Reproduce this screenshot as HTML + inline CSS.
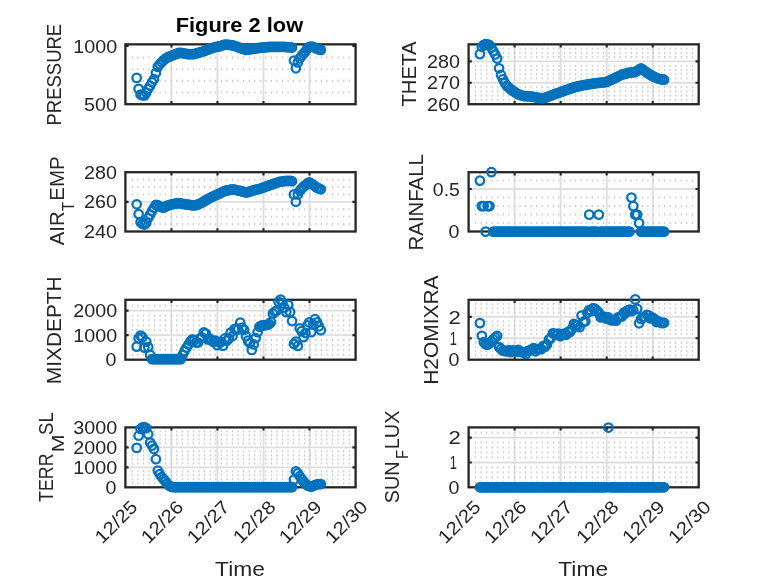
<!DOCTYPE html>
<html><head><meta charset="utf-8"><title>Figure 2 low</title>
<style>html,body{margin:0;padding:0;background:#fff}body{width:778px;height:583px;overflow:hidden}</style>
</head><body>
<svg width="778" height="583" viewBox="0 0 778 583" style="display:block;font-family:'Liberation Sans', 'DejaVu Sans', sans-serif">
<rect width="778" height="583" fill="#fff"/>
<g><line x1="171.43" x2="171.43" y1="44.35" y2="104.2" stroke="#DEDEDE" stroke-width="1.9"/><line x1="217.46" x2="217.46" y1="44.35" y2="104.2" stroke="#DEDEDE" stroke-width="1.9"/><line x1="263.49" x2="263.49" y1="44.35" y2="104.2" stroke="#DEDEDE" stroke-width="1.9"/><line x1="309.52" x2="309.52" y1="44.35" y2="104.2" stroke="#DEDEDE" stroke-width="1.9"/><line x1="131.75" x2="353.1" y1="92.54" y2="92.54" stroke="#CACACA" stroke-width="2.1" stroke-dasharray="1.15 4.412"/><line x1="131.75" x2="353.1" y1="80.88" y2="80.88" stroke="#CACACA" stroke-width="2.1" stroke-dasharray="1.15 4.412"/><line x1="131.75" x2="353.1" y1="69.22" y2="69.22" stroke="#CACACA" stroke-width="2.1" stroke-dasharray="1.15 4.412"/><line x1="131.75" x2="353.1" y1="57.56" y2="57.56" stroke="#CACACA" stroke-width="2.1" stroke-dasharray="1.15 4.412"/><rect x="125.4" y="44.35" width="230.2" height="59.85" fill="none" stroke="#262626" stroke-width="2.3"/><path d="M171.43 104.2v-3.2M171.43 44.35v3.2M217.46 104.2v-3.2M217.46 44.35v3.2M263.49 104.2v-3.2M263.49 44.35v3.2M309.52 104.2v-3.2M309.52 44.35v3.2M125.4 45.9h3.2M355.6 45.9h-3.2" stroke="#262626" stroke-width="2.1" fill="none"/><g fill="none" stroke="#0072BD" stroke-width="2.25"><circle cx="136.71" cy="77.9" r="4.25"/><circle cx="138.63" cy="88.9" r="4.25"/><circle cx="140.54" cy="94.5" r="4.25"/><circle cx="142.46" cy="95.3" r="4.25"/><circle cx="144.38" cy="95.4" r="4.25"/><circle cx="146.3" cy="92.5" r="4.25"/><circle cx="148.22" cy="88.8" r="4.25"/><circle cx="150.13" cy="85.7" r="4.25"/><circle cx="152.05" cy="82.3" r="4.25"/><circle cx="153.97" cy="79.2" r="4.25"/><circle cx="155.89" cy="73" r="4.25"/><circle cx="157.8" cy="66.87" r="4.25"/><circle cx="159.72" cy="64.24" r="4.25"/><circle cx="161.64" cy="62.22" r="4.25"/><circle cx="163.56" cy="60.28" r="4.25"/><circle cx="165.48" cy="58.63" r="4.25"/><circle cx="167.39" cy="57.45" r="4.25"/><circle cx="169.31" cy="56.61" r="4.25"/><circle cx="171.23" cy="55.77" r="4.25"/><circle cx="173.15" cy="55.05" r="4.25"/><circle cx="175.07" cy="54.33" r="4.25"/><circle cx="176.98" cy="53.61" r="4.25"/><circle cx="178.9" cy="52.9" r="4.25"/><circle cx="180.82" cy="52.8" r="4.25"/><circle cx="182.74" cy="53.15" r="4.25"/><circle cx="184.66" cy="53.5" r="4.25"/><circle cx="186.57" cy="53.85" r="4.25"/><circle cx="188.49" cy="54.2" r="4.25"/><circle cx="190.41" cy="54.17" r="4.25"/><circle cx="192.33" cy="54.13" r="4.25"/><circle cx="194.25" cy="54.03" r="4.25"/><circle cx="196.16" cy="53.46" r="4.25"/><circle cx="198.08" cy="52.89" r="4.25"/><circle cx="200" cy="52.32" r="4.25"/><circle cx="201.92" cy="51.76" r="4.25"/><circle cx="203.83" cy="51.19" r="4.25"/><circle cx="205.75" cy="50.46" r="4.25"/><circle cx="207.67" cy="49.74" r="4.25"/><circle cx="209.59" cy="49.01" r="4.25"/><circle cx="211.51" cy="48.29" r="4.25"/><circle cx="213.42" cy="47.57" r="4.25"/><circle cx="215.34" cy="47.14" r="4.25"/><circle cx="217.26" cy="46.74" r="4.25"/><circle cx="219.18" cy="46.35" r="4.25"/><circle cx="221.1" cy="45.78" r="4.25"/><circle cx="223.01" cy="45.2" r="4.25"/><circle cx="224.93" cy="44.61" r="4.25"/><circle cx="226.85" cy="44.66" r="4.25"/><circle cx="228.77" cy="44.86" r="4.25"/><circle cx="230.69" cy="45.05" r="4.25"/><circle cx="232.6" cy="45.25" r="4.25"/><circle cx="234.52" cy="45.84" r="4.25"/><circle cx="236.44" cy="46.56" r="4.25"/><circle cx="238.36" cy="47.28" r="4.25"/><circle cx="240.28" cy="47.99" r="4.25"/><circle cx="242.19" cy="48.64" r="4.25"/><circle cx="244.11" cy="49.29" r="4.25"/><circle cx="246.03" cy="49.88" r="4.25"/><circle cx="247.95" cy="49.6" r="4.25"/><circle cx="249.86" cy="49.32" r="4.25"/><circle cx="251.78" cy="49.03" r="4.25"/><circle cx="253.7" cy="48.75" r="4.25"/><circle cx="255.62" cy="48.45" r="4.25"/><circle cx="257.54" cy="48.16" r="4.25"/><circle cx="259.45" cy="47.86" r="4.25"/><circle cx="261.37" cy="47.63" r="4.25"/><circle cx="263.29" cy="47.47" r="4.25"/><circle cx="265.21" cy="47.3" r="4.25"/><circle cx="267.13" cy="47.14" r="4.25"/><circle cx="269.04" cy="46.98" r="4.25"/><circle cx="270.96" cy="46.89" r="4.25"/><circle cx="272.88" cy="46.88" r="4.25"/><circle cx="274.8" cy="46.86" r="4.25"/><circle cx="276.72" cy="46.85" r="4.25"/><circle cx="278.63" cy="46.84" r="4.25"/><circle cx="280.55" cy="46.82" r="4.25"/><circle cx="282.47" cy="46.81" r="4.25"/><circle cx="284.39" cy="46.87" r="4.25"/><circle cx="286.31" cy="47.02" r="4.25"/><circle cx="288.22" cy="47.18" r="4.25"/><circle cx="290.14" cy="47.34" r="4.25"/><circle cx="292.06" cy="47.5" r="4.25"/><circle cx="293.98" cy="60.5" r="4.25"/><circle cx="295.89" cy="68.3" r="4.25"/><circle cx="297.81" cy="62.4" r="4.25"/><circle cx="299.73" cy="58.35" r="4.25"/><circle cx="301.65" cy="55.9" r="4.25"/><circle cx="303.57" cy="53.56" r="4.25"/><circle cx="305.48" cy="51.33" r="4.25"/><circle cx="307.4" cy="48.35" r="4.25"/><circle cx="309.32" cy="46.82" r="4.25"/><circle cx="311.24" cy="46.51" r="4.25"/><circle cx="313.16" cy="46.92" r="4.25"/><circle cx="315.07" cy="47.81" r="4.25"/><circle cx="316.99" cy="48.69" r="4.25"/><circle cx="318.91" cy="49.52" r="4.25"/><circle cx="320.83" cy="49.9" r="4.25"/></g></g>
<g><line x1="171.43" x2="171.43" y1="172.2" y2="231.5" stroke="#DEDEDE" stroke-width="1.9"/><line x1="217.46" x2="217.46" y1="172.2" y2="231.5" stroke="#DEDEDE" stroke-width="1.9"/><line x1="263.49" x2="263.49" y1="172.2" y2="231.5" stroke="#DEDEDE" stroke-width="1.9"/><line x1="309.52" x2="309.52" y1="172.2" y2="231.5" stroke="#DEDEDE" stroke-width="1.9"/><line x1="125.4" x2="355.6" y1="201.85" y2="201.85" stroke="#DEDEDE" stroke-width="1.9"/><line x1="131.75" x2="353.1" y1="224.09" y2="224.09" stroke="#CACACA" stroke-width="2.1" stroke-dasharray="1.15 4.412"/><line x1="131.75" x2="353.1" y1="216.68" y2="216.68" stroke="#CACACA" stroke-width="2.1" stroke-dasharray="1.15 4.412"/><line x1="131.75" x2="353.1" y1="209.26" y2="209.26" stroke="#CACACA" stroke-width="2.1" stroke-dasharray="1.15 4.412"/><line x1="131.75" x2="353.1" y1="194.44" y2="194.44" stroke="#CACACA" stroke-width="2.1" stroke-dasharray="1.15 4.412"/><line x1="131.75" x2="353.1" y1="187.02" y2="187.02" stroke="#CACACA" stroke-width="2.1" stroke-dasharray="1.15 4.412"/><line x1="131.75" x2="353.1" y1="179.61" y2="179.61" stroke="#CACACA" stroke-width="2.1" stroke-dasharray="1.15 4.412"/><rect x="125.4" y="172.2" width="230.2" height="59.3" fill="none" stroke="#262626" stroke-width="2.3"/><path d="M171.43 231.5v-3.2M171.43 172.2v3.2M217.46 231.5v-3.2M217.46 172.2v3.2M263.49 231.5v-3.2M263.49 172.2v3.2M309.52 231.5v-3.2M309.52 172.2v3.2M125.4 201.85h3.2M355.6 201.85h-3.2" stroke="#262626" stroke-width="2.1" fill="none"/><g fill="none" stroke="#0072BD" stroke-width="2.25"><circle cx="136.71" cy="204.3" r="4.25"/><circle cx="138.63" cy="214.1" r="4.25"/><circle cx="140.54" cy="222.3" r="4.25"/><circle cx="142.46" cy="223.8" r="4.25"/><circle cx="144.38" cy="224.5" r="4.25"/><circle cx="146.3" cy="223" r="4.25"/><circle cx="148.22" cy="218" r="4.25"/><circle cx="150.13" cy="214.6" r="4.25"/><circle cx="152.05" cy="211.1" r="4.25"/><circle cx="153.97" cy="207.7" r="4.25"/><circle cx="155.89" cy="204.9" r="4.25"/><circle cx="157.8" cy="205.2" r="4.25"/><circle cx="159.72" cy="206.4" r="4.25"/><circle cx="161.64" cy="207.12" r="4.25"/><circle cx="163.56" cy="207.69" r="4.25"/><circle cx="165.48" cy="206.65" r="4.25"/><circle cx="167.39" cy="205.67" r="4.25"/><circle cx="169.31" cy="205.01" r="4.25"/><circle cx="171.23" cy="204.36" r="4.25"/><circle cx="173.15" cy="204.02" r="4.25"/><circle cx="175.07" cy="203.71" r="4.25"/><circle cx="176.98" cy="203.39" r="4.25"/><circle cx="178.9" cy="203.12" r="4.25"/><circle cx="180.82" cy="203.46" r="4.25"/><circle cx="182.74" cy="203.79" r="4.25"/><circle cx="184.66" cy="204.13" r="4.25"/><circle cx="186.57" cy="204.44" r="4.25"/><circle cx="188.49" cy="204.72" r="4.25"/><circle cx="190.41" cy="205" r="4.25"/><circle cx="192.33" cy="205.27" r="4.25"/><circle cx="194.25" cy="205.3" r="4.25"/><circle cx="196.16" cy="205.23" r="4.25"/><circle cx="198.08" cy="204.37" r="4.25"/><circle cx="200" cy="203.51" r="4.25"/><circle cx="201.92" cy="202.63" r="4.25"/><circle cx="203.83" cy="201.49" r="4.25"/><circle cx="205.75" cy="200.35" r="4.25"/><circle cx="207.67" cy="199.21" r="4.25"/><circle cx="209.59" cy="198.07" r="4.25"/><circle cx="211.51" cy="197.17" r="4.25"/><circle cx="213.42" cy="196.28" r="4.25"/><circle cx="215.34" cy="195.4" r="4.25"/><circle cx="217.26" cy="194.51" r="4.25"/><circle cx="219.18" cy="193.6" r="4.25"/><circle cx="221.1" cy="192.69" r="4.25"/><circle cx="223.01" cy="191.78" r="4.25"/><circle cx="224.93" cy="190.87" r="4.25"/><circle cx="226.85" cy="190.42" r="4.25"/><circle cx="228.77" cy="190.08" r="4.25"/><circle cx="230.69" cy="189.73" r="4.25"/><circle cx="232.6" cy="189.39" r="4.25"/><circle cx="234.52" cy="189.63" r="4.25"/><circle cx="236.44" cy="190.07" r="4.25"/><circle cx="238.36" cy="190.52" r="4.25"/><circle cx="240.28" cy="190.97" r="4.25"/><circle cx="242.19" cy="191.48" r="4.25"/><circle cx="244.11" cy="191.99" r="4.25"/><circle cx="246.03" cy="192.5" r="4.25"/><circle cx="247.95" cy="192.08" r="4.25"/><circle cx="249.86" cy="191.45" r="4.25"/><circle cx="251.78" cy="190.81" r="4.25"/><circle cx="253.7" cy="190.24" r="4.25"/><circle cx="255.62" cy="189.75" r="4.25"/><circle cx="257.54" cy="189.26" r="4.25"/><circle cx="259.45" cy="188.77" r="4.25"/><circle cx="261.37" cy="188.19" r="4.25"/><circle cx="263.29" cy="187.5" r="4.25"/><circle cx="265.21" cy="186.82" r="4.25"/><circle cx="267.13" cy="186.13" r="4.25"/><circle cx="269.04" cy="185.44" r="4.25"/><circle cx="270.96" cy="184.76" r="4.25"/><circle cx="272.88" cy="184.09" r="4.25"/><circle cx="274.8" cy="183.42" r="4.25"/><circle cx="276.72" cy="182.75" r="4.25"/><circle cx="278.63" cy="182.07" r="4.25"/><circle cx="280.55" cy="181.59" r="4.25"/><circle cx="282.47" cy="181.34" r="4.25"/><circle cx="284.39" cy="181.1" r="4.25"/><circle cx="286.31" cy="180.85" r="4.25"/><circle cx="288.22" cy="180.78" r="4.25"/><circle cx="290.14" cy="180.99" r="4.25"/><circle cx="292.06" cy="181.2" r="4.25"/><circle cx="293.98" cy="194.4" r="4.25"/><circle cx="295.89" cy="201.7" r="4.25"/><circle cx="297.81" cy="194.4" r="4.25"/><circle cx="299.73" cy="190.73" r="4.25"/><circle cx="301.65" cy="188.58" r="4.25"/><circle cx="303.57" cy="186.63" r="4.25"/><circle cx="305.48" cy="185.09" r="4.25"/><circle cx="307.4" cy="183.48" r="4.25"/><circle cx="309.32" cy="182.31" r="4.25"/><circle cx="311.24" cy="183.53" r="4.25"/><circle cx="313.16" cy="184.79" r="4.25"/><circle cx="315.07" cy="186.22" r="4.25"/><circle cx="316.99" cy="187.59" r="4.25"/><circle cx="318.91" cy="188.45" r="4.25"/><circle cx="320.83" cy="189.3" r="4.25"/></g></g>
<g><line x1="171.43" x2="171.43" y1="299.8" y2="359.7" stroke="#DEDEDE" stroke-width="1.9"/><line x1="217.46" x2="217.46" y1="299.8" y2="359.7" stroke="#DEDEDE" stroke-width="1.9"/><line x1="263.49" x2="263.49" y1="299.8" y2="359.7" stroke="#DEDEDE" stroke-width="1.9"/><line x1="309.52" x2="309.52" y1="299.8" y2="359.7" stroke="#DEDEDE" stroke-width="1.9"/><line x1="125.4" x2="355.6" y1="335.15" y2="335.15" stroke="#DEDEDE" stroke-width="1.9"/><line x1="125.4" x2="355.6" y1="310.6" y2="310.6" stroke="#DEDEDE" stroke-width="1.9"/><line x1="131.75" x2="353.1" y1="354.79" y2="354.79" stroke="#CACACA" stroke-width="2.1" stroke-dasharray="1.15 4.412"/><line x1="131.75" x2="353.1" y1="349.88" y2="349.88" stroke="#CACACA" stroke-width="2.1" stroke-dasharray="1.15 4.412"/><line x1="131.75" x2="353.1" y1="344.97" y2="344.97" stroke="#CACACA" stroke-width="2.1" stroke-dasharray="1.15 4.412"/><line x1="131.75" x2="353.1" y1="340.06" y2="340.06" stroke="#CACACA" stroke-width="2.1" stroke-dasharray="1.15 4.412"/><line x1="131.75" x2="353.1" y1="330.24" y2="330.24" stroke="#CACACA" stroke-width="2.1" stroke-dasharray="1.15 4.412"/><line x1="131.75" x2="353.1" y1="325.33" y2="325.33" stroke="#CACACA" stroke-width="2.1" stroke-dasharray="1.15 4.412"/><line x1="131.75" x2="353.1" y1="320.42" y2="320.42" stroke="#CACACA" stroke-width="2.1" stroke-dasharray="1.15 4.412"/><line x1="131.75" x2="353.1" y1="315.51" y2="315.51" stroke="#CACACA" stroke-width="2.1" stroke-dasharray="1.15 4.412"/><line x1="131.75" x2="353.1" y1="305.69" y2="305.69" stroke="#CACACA" stroke-width="2.1" stroke-dasharray="1.15 4.412"/><rect x="125.4" y="299.8" width="230.2" height="59.9" fill="none" stroke="#262626" stroke-width="2.3"/><path d="M171.43 359.7v-3.2M171.43 299.8v3.2M217.46 359.7v-3.2M217.46 299.8v3.2M263.49 359.7v-3.2M263.49 299.8v3.2M309.52 359.7v-3.2M309.52 299.8v3.2M125.4 335.15h3.2M355.6 335.15h-3.2M125.4 310.6h3.2M355.6 310.6h-3.2" stroke="#262626" stroke-width="2.1" fill="none"/><g fill="none" stroke="#0072BD" stroke-width="2.25"><circle cx="136.71" cy="346.6" r="4.25"/><circle cx="138.63" cy="338.3" r="4.25"/><circle cx="140.54" cy="335.6" r="4.25"/><circle cx="142.46" cy="337.3" r="4.25"/><circle cx="144.38" cy="347.6" r="4.25"/><circle cx="146.3" cy="341.7" r="4.25"/><circle cx="148.22" cy="347.1" r="4.25"/><circle cx="150.13" cy="354.9" r="4.25"/><circle cx="152.05" cy="359.1" r="4.25"/><circle cx="153.97" cy="359.1" r="4.25"/><circle cx="155.89" cy="359.1" r="4.25"/><circle cx="157.8" cy="359.1" r="4.25"/><circle cx="159.72" cy="359.1" r="4.25"/><circle cx="161.64" cy="359.1" r="4.25"/><circle cx="163.56" cy="359.1" r="4.25"/><circle cx="165.48" cy="359.1" r="4.25"/><circle cx="167.39" cy="359.1" r="4.25"/><circle cx="169.31" cy="359.1" r="4.25"/><circle cx="171.23" cy="359.1" r="4.25"/><circle cx="173.15" cy="359.1" r="4.25"/><circle cx="175.07" cy="359.1" r="4.25"/><circle cx="176.98" cy="359.1" r="4.25"/><circle cx="178.9" cy="359.1" r="4.25"/><circle cx="180.82" cy="359.1" r="4.25"/><circle cx="182.74" cy="354.82" r="4.25"/><circle cx="184.66" cy="350.91" r="4.25"/><circle cx="186.57" cy="347.65" r="4.25"/><circle cx="188.49" cy="344.53" r="4.25"/><circle cx="190.41" cy="341.23" r="4.25"/><circle cx="192.33" cy="339.43" r="4.25"/><circle cx="194.25" cy="340.38" r="4.25"/><circle cx="196.16" cy="342.56" r="4.25"/><circle cx="198.08" cy="342.56" r="4.25"/><circle cx="200" cy="338.26" r="4.25"/><circle cx="201.92" cy="337.4" r="4.25"/><circle cx="203.83" cy="332.45" r="4.25"/><circle cx="205.75" cy="333.53" r="4.25"/><circle cx="207.67" cy="339.45" r="4.25"/><circle cx="209.59" cy="338.65" r="4.25"/><circle cx="211.51" cy="340.5" r="4.25"/><circle cx="213.42" cy="341.84" r="4.25"/><circle cx="215.34" cy="340.62" r="4.25"/><circle cx="217.26" cy="345.18" r="4.25"/><circle cx="219.18" cy="342.29" r="4.25"/><circle cx="221.1" cy="341.88" r="4.25"/><circle cx="223.01" cy="345.72" r="4.25"/><circle cx="224.93" cy="338.46" r="4.25"/><circle cx="226.85" cy="340.7" r="4.25"/><circle cx="228.77" cy="338.6" r="4.25"/><circle cx="230.69" cy="332.62" r="4.25"/><circle cx="232.6" cy="336.05" r="4.25"/><circle cx="234.52" cy="329.13" r="4.25"/><circle cx="236.44" cy="328.42" r="4.25"/><circle cx="238.36" cy="329.48" r="4.25"/><circle cx="240.28" cy="322.52" r="4.25"/><circle cx="242.19" cy="327.73" r="4.25"/><circle cx="244.11" cy="329.78" r="4.25"/><circle cx="246.03" cy="336.13" r="4.25"/><circle cx="247.95" cy="340.58" r="4.25"/><circle cx="249.86" cy="343.03" r="4.25"/><circle cx="251.78" cy="349.9" r="4.25"/><circle cx="253.7" cy="344.46" r="4.25"/><circle cx="255.62" cy="338.1" r="4.25"/><circle cx="257.54" cy="332.19" r="4.25"/><circle cx="259.45" cy="326.73" r="4.25"/><circle cx="261.37" cy="325.7" r="4.25"/><circle cx="263.29" cy="325.35" r="4.25"/><circle cx="265.21" cy="325.14" r="4.25"/><circle cx="267.13" cy="324.81" r="4.25"/><circle cx="269.04" cy="324.08" r="4.25"/><circle cx="270.96" cy="322.19" r="4.25"/><circle cx="272.88" cy="313.6" r="4.25"/><circle cx="274.8" cy="311.7" r="4.25"/><circle cx="276.72" cy="310.7" r="4.25"/><circle cx="278.63" cy="301.9" r="4.25"/><circle cx="280.55" cy="299.6" r="4.25"/><circle cx="282.47" cy="303.3" r="4.25"/><circle cx="284.39" cy="307.7" r="4.25"/><circle cx="286.31" cy="312.1" r="4.25"/><circle cx="288.22" cy="304.8" r="4.25"/><circle cx="290.14" cy="312.1" r="4.25"/><circle cx="292.06" cy="321" r="4.25"/><circle cx="293.98" cy="343.9" r="4.25"/><circle cx="295.89" cy="341.5" r="4.25"/><circle cx="297.81" cy="345.9" r="4.25"/><circle cx="299.73" cy="328.3" r="4.25"/><circle cx="301.65" cy="331.2" r="4.25"/><circle cx="303.57" cy="337.1" r="4.25"/><circle cx="305.48" cy="333" r="4.25"/><circle cx="307.4" cy="325.4" r="4.25"/><circle cx="309.32" cy="322.4" r="4.25"/><circle cx="311.24" cy="332.2" r="4.25"/><circle cx="313.16" cy="324.5" r="4.25"/><circle cx="315.07" cy="319.2" r="4.25"/><circle cx="316.99" cy="322.4" r="4.25"/><circle cx="318.91" cy="326.3" r="4.25"/><circle cx="320.83" cy="330.2" r="4.25"/></g></g>
<g><line x1="171.43" x2="171.43" y1="427.4" y2="487.3" stroke="#DEDEDE" stroke-width="1.9"/><line x1="217.46" x2="217.46" y1="427.4" y2="487.3" stroke="#DEDEDE" stroke-width="1.9"/><line x1="263.49" x2="263.49" y1="427.4" y2="487.3" stroke="#DEDEDE" stroke-width="1.9"/><line x1="309.52" x2="309.52" y1="427.4" y2="487.3" stroke="#DEDEDE" stroke-width="1.9"/><line x1="125.4" x2="355.6" y1="467.33" y2="467.33" stroke="#DEDEDE" stroke-width="1.9"/><line x1="125.4" x2="355.6" y1="447.37" y2="447.37" stroke="#DEDEDE" stroke-width="1.9"/><line x1="131.75" x2="353.1" y1="483.31" y2="483.31" stroke="#CACACA" stroke-width="2.1" stroke-dasharray="1.15 4.412"/><line x1="131.75" x2="353.1" y1="479.31" y2="479.31" stroke="#CACACA" stroke-width="2.1" stroke-dasharray="1.15 4.412"/><line x1="131.75" x2="353.1" y1="475.32" y2="475.32" stroke="#CACACA" stroke-width="2.1" stroke-dasharray="1.15 4.412"/><line x1="131.75" x2="353.1" y1="471.33" y2="471.33" stroke="#CACACA" stroke-width="2.1" stroke-dasharray="1.15 4.412"/><line x1="131.75" x2="353.1" y1="463.34" y2="463.34" stroke="#CACACA" stroke-width="2.1" stroke-dasharray="1.15 4.412"/><line x1="131.75" x2="353.1" y1="459.35" y2="459.35" stroke="#CACACA" stroke-width="2.1" stroke-dasharray="1.15 4.412"/><line x1="131.75" x2="353.1" y1="455.35" y2="455.35" stroke="#CACACA" stroke-width="2.1" stroke-dasharray="1.15 4.412"/><line x1="131.75" x2="353.1" y1="451.36" y2="451.36" stroke="#CACACA" stroke-width="2.1" stroke-dasharray="1.15 4.412"/><line x1="131.75" x2="353.1" y1="443.37" y2="443.37" stroke="#CACACA" stroke-width="2.1" stroke-dasharray="1.15 4.412"/><line x1="131.75" x2="353.1" y1="439.38" y2="439.38" stroke="#CACACA" stroke-width="2.1" stroke-dasharray="1.15 4.412"/><line x1="131.75" x2="353.1" y1="435.39" y2="435.39" stroke="#CACACA" stroke-width="2.1" stroke-dasharray="1.15 4.412"/><line x1="131.75" x2="353.1" y1="431.39" y2="431.39" stroke="#CACACA" stroke-width="2.1" stroke-dasharray="1.15 4.412"/><rect x="125.4" y="427.4" width="230.2" height="59.9" fill="none" stroke="#262626" stroke-width="2.3"/><path d="M171.43 487.3v-3.2M171.43 427.4v3.2M217.46 487.3v-3.2M217.46 427.4v3.2M263.49 487.3v-3.2M263.49 427.4v3.2M309.52 487.3v-3.2M309.52 427.4v3.2M125.4 467.33h3.2M355.6 467.33h-3.2M125.4 447.37h3.2M355.6 447.37h-3.2" stroke="#262626" stroke-width="2.1" fill="none"/><g fill="none" stroke="#0072BD" stroke-width="2.25"><circle cx="136.71" cy="447.9" r="4.25"/><circle cx="138.63" cy="435.7" r="4.25"/><circle cx="140.54" cy="429" r="4.25"/><circle cx="142.46" cy="427.3" r="4.25"/><circle cx="144.38" cy="427.2" r="4.25"/><circle cx="146.3" cy="428.2" r="4.25"/><circle cx="148.22" cy="434.2" r="4.25"/><circle cx="150.13" cy="442.5" r="4.25"/><circle cx="152.05" cy="445.5" r="4.25"/><circle cx="153.97" cy="448.9" r="4.25"/><circle cx="155.89" cy="459.2" r="4.25"/><circle cx="157.8" cy="470.5" r="4.25"/><circle cx="159.72" cy="474.13" r="4.25"/><circle cx="161.64" cy="477.07" r="4.25"/><circle cx="163.56" cy="479.08" r="4.25"/><circle cx="165.48" cy="481.36" r="4.25"/><circle cx="167.39" cy="483.96" r="4.25"/><circle cx="169.31" cy="485.75" r="4.25"/><circle cx="171.23" cy="486.72" r="4.25"/><circle cx="173.15" cy="487.19" r="4.25"/><circle cx="175.07" cy="487.2" r="4.25"/><circle cx="176.98" cy="487.2" r="4.25"/><circle cx="178.9" cy="487.2" r="4.25"/><circle cx="180.82" cy="487.2" r="4.25"/><circle cx="182.74" cy="487.2" r="4.25"/><circle cx="184.66" cy="487.2" r="4.25"/><circle cx="186.57" cy="487.2" r="4.25"/><circle cx="188.49" cy="487.2" r="4.25"/><circle cx="190.41" cy="487.2" r="4.25"/><circle cx="192.33" cy="487.2" r="4.25"/><circle cx="194.25" cy="487.2" r="4.25"/><circle cx="196.16" cy="487.2" r="4.25"/><circle cx="198.08" cy="487.2" r="4.25"/><circle cx="200" cy="487.2" r="4.25"/><circle cx="201.92" cy="487.2" r="4.25"/><circle cx="203.83" cy="487.2" r="4.25"/><circle cx="205.75" cy="487.2" r="4.25"/><circle cx="207.67" cy="487.2" r="4.25"/><circle cx="209.59" cy="487.2" r="4.25"/><circle cx="211.51" cy="487.2" r="4.25"/><circle cx="213.42" cy="487.2" r="4.25"/><circle cx="215.34" cy="487.2" r="4.25"/><circle cx="217.26" cy="487.2" r="4.25"/><circle cx="219.18" cy="487.2" r="4.25"/><circle cx="221.1" cy="487.2" r="4.25"/><circle cx="223.01" cy="487.2" r="4.25"/><circle cx="224.93" cy="487.2" r="4.25"/><circle cx="226.85" cy="487.2" r="4.25"/><circle cx="228.77" cy="487.2" r="4.25"/><circle cx="230.69" cy="487.2" r="4.25"/><circle cx="232.6" cy="487.2" r="4.25"/><circle cx="234.52" cy="487.2" r="4.25"/><circle cx="236.44" cy="487.2" r="4.25"/><circle cx="238.36" cy="487.2" r="4.25"/><circle cx="240.28" cy="487.2" r="4.25"/><circle cx="242.19" cy="487.2" r="4.25"/><circle cx="244.11" cy="487.2" r="4.25"/><circle cx="246.03" cy="487.2" r="4.25"/><circle cx="247.95" cy="487.2" r="4.25"/><circle cx="249.86" cy="487.2" r="4.25"/><circle cx="251.78" cy="487.2" r="4.25"/><circle cx="253.7" cy="487.2" r="4.25"/><circle cx="255.62" cy="487.2" r="4.25"/><circle cx="257.54" cy="487.2" r="4.25"/><circle cx="259.45" cy="487.2" r="4.25"/><circle cx="261.37" cy="487.2" r="4.25"/><circle cx="263.29" cy="487.2" r="4.25"/><circle cx="265.21" cy="487.2" r="4.25"/><circle cx="267.13" cy="487.2" r="4.25"/><circle cx="269.04" cy="487.2" r="4.25"/><circle cx="270.96" cy="487.2" r="4.25"/><circle cx="272.88" cy="487.2" r="4.25"/><circle cx="274.8" cy="487.2" r="4.25"/><circle cx="276.72" cy="487.2" r="4.25"/><circle cx="278.63" cy="487.2" r="4.25"/><circle cx="280.55" cy="487.2" r="4.25"/><circle cx="282.47" cy="487.2" r="4.25"/><circle cx="284.39" cy="487.2" r="4.25"/><circle cx="286.31" cy="487.2" r="4.25"/><circle cx="288.22" cy="487.2" r="4.25"/><circle cx="290.14" cy="487.2" r="4.25"/><circle cx="292.06" cy="487.2" r="4.25"/><circle cx="293.98" cy="479.6" r="4.25"/><circle cx="295.89" cy="471.3" r="4.25"/><circle cx="297.81" cy="473.3" r="4.25"/><circle cx="299.73" cy="476.2" r="4.25"/><circle cx="301.65" cy="479.1" r="4.25"/><circle cx="303.57" cy="481.6" r="4.25"/><circle cx="305.48" cy="484" r="4.25"/><circle cx="307.4" cy="485.37" r="4.25"/><circle cx="309.32" cy="486.24" r="4.25"/><circle cx="311.24" cy="486.69" r="4.25"/><circle cx="313.16" cy="485.83" r="4.25"/><circle cx="315.07" cy="485.05" r="4.25"/><circle cx="316.99" cy="484.32" r="4.25"/><circle cx="318.91" cy="484.11" r="4.25"/><circle cx="320.83" cy="484" r="4.25"/></g></g>
<g><line x1="514.63" x2="514.63" y1="44.35" y2="104.2" stroke="#DEDEDE" stroke-width="1.9"/><line x1="560.66" x2="560.66" y1="44.35" y2="104.2" stroke="#DEDEDE" stroke-width="1.9"/><line x1="606.69" x2="606.69" y1="44.35" y2="104.2" stroke="#DEDEDE" stroke-width="1.9"/><line x1="652.72" x2="652.72" y1="44.35" y2="104.2" stroke="#DEDEDE" stroke-width="1.9"/><line x1="468.6" x2="698.7" y1="82.8" y2="82.8" stroke="#DEDEDE" stroke-width="1.9"/><line x1="468.6" x2="698.7" y1="61.4" y2="61.4" stroke="#DEDEDE" stroke-width="1.9"/><line x1="474.95" x2="696.2" y1="99.92" y2="99.92" stroke="#CACACA" stroke-width="2.1" stroke-dasharray="1.15 4.412"/><line x1="474.95" x2="696.2" y1="95.64" y2="95.64" stroke="#CACACA" stroke-width="2.1" stroke-dasharray="1.15 4.412"/><line x1="474.95" x2="696.2" y1="91.36" y2="91.36" stroke="#CACACA" stroke-width="2.1" stroke-dasharray="1.15 4.412"/><line x1="474.95" x2="696.2" y1="87.08" y2="87.08" stroke="#CACACA" stroke-width="2.1" stroke-dasharray="1.15 4.412"/><line x1="474.95" x2="696.2" y1="78.52" y2="78.52" stroke="#CACACA" stroke-width="2.1" stroke-dasharray="1.15 4.412"/><line x1="474.95" x2="696.2" y1="74.24" y2="74.24" stroke="#CACACA" stroke-width="2.1" stroke-dasharray="1.15 4.412"/><line x1="474.95" x2="696.2" y1="69.96" y2="69.96" stroke="#CACACA" stroke-width="2.1" stroke-dasharray="1.15 4.412"/><line x1="474.95" x2="696.2" y1="65.68" y2="65.68" stroke="#CACACA" stroke-width="2.1" stroke-dasharray="1.15 4.412"/><line x1="474.95" x2="696.2" y1="57.12" y2="57.12" stroke="#CACACA" stroke-width="2.1" stroke-dasharray="1.15 4.412"/><line x1="474.95" x2="696.2" y1="52.84" y2="52.84" stroke="#CACACA" stroke-width="2.1" stroke-dasharray="1.15 4.412"/><line x1="474.95" x2="696.2" y1="48.56" y2="48.56" stroke="#CACACA" stroke-width="2.1" stroke-dasharray="1.15 4.412"/><rect x="468.6" y="44.35" width="230.1" height="59.85" fill="none" stroke="#262626" stroke-width="2.3"/><path d="M514.63 104.2v-3.2M514.63 44.35v3.2M560.66 104.2v-3.2M560.66 44.35v3.2M606.69 104.2v-3.2M606.69 44.35v3.2M652.72 104.2v-3.2M652.72 44.35v3.2M468.6 82.8h3.2M698.7 82.8h-3.2M468.6 61.4h3.2M698.7 61.4h-3.2" stroke="#262626" stroke-width="2.1" fill="none"/><g fill="none" stroke="#0072BD" stroke-width="2.25"><circle cx="479.91" cy="54.1" r="4.25"/><circle cx="481.83" cy="46.8" r="4.25"/><circle cx="483.74" cy="44.8" r="4.25"/><circle cx="485.66" cy="44.2" r="4.25"/><circle cx="487.58" cy="44.3" r="4.25"/><circle cx="489.5" cy="45.2" r="4.25"/><circle cx="491.42" cy="47.8" r="4.25"/><circle cx="493.33" cy="51.2" r="4.25"/><circle cx="495.25" cy="54.5" r="4.25"/><circle cx="497.17" cy="58.5" r="4.25"/><circle cx="499.09" cy="68.3" r="4.25"/><circle cx="501" cy="74.93" r="4.25"/><circle cx="502.92" cy="79.29" r="4.25"/><circle cx="504.84" cy="83.06" r="4.25"/><circle cx="506.76" cy="85.65" r="4.25"/><circle cx="508.68" cy="87.49" r="4.25"/><circle cx="510.59" cy="89.14" r="4.25"/><circle cx="512.51" cy="90.64" r="4.25"/><circle cx="514.43" cy="91.91" r="4.25"/><circle cx="516.35" cy="93.17" r="4.25"/><circle cx="518.27" cy="94.31" r="4.25"/><circle cx="520.18" cy="94.91" r="4.25"/><circle cx="522.1" cy="95.5" r="4.25"/><circle cx="524.02" cy="96.02" r="4.25"/><circle cx="525.94" cy="96.14" r="4.25"/><circle cx="527.86" cy="96.26" r="4.25"/><circle cx="529.77" cy="96.38" r="4.25"/><circle cx="531.69" cy="96.52" r="4.25"/><circle cx="533.61" cy="96.92" r="4.25"/><circle cx="535.53" cy="97.31" r="4.25"/><circle cx="537.45" cy="97.71" r="4.25"/><circle cx="539.36" cy="97.93" r="4.25"/><circle cx="541.28" cy="98.16" r="4.25"/><circle cx="543.2" cy="98.39" r="4.25"/><circle cx="545.12" cy="97.72" r="4.25"/><circle cx="547.03" cy="97.01" r="4.25"/><circle cx="548.95" cy="96.3" r="4.25"/><circle cx="550.87" cy="95.59" r="4.25"/><circle cx="552.79" cy="94.88" r="4.25"/><circle cx="554.71" cy="94.18" r="4.25"/><circle cx="556.62" cy="93.47" r="4.25"/><circle cx="558.54" cy="92.77" r="4.25"/><circle cx="560.46" cy="92.08" r="4.25"/><circle cx="562.38" cy="91.39" r="4.25"/><circle cx="564.3" cy="90.7" r="4.25"/><circle cx="566.21" cy="90.01" r="4.25"/><circle cx="568.13" cy="89.36" r="4.25"/><circle cx="570.05" cy="88.72" r="4.25"/><circle cx="571.97" cy="88.08" r="4.25"/><circle cx="573.89" cy="87.44" r="4.25"/><circle cx="575.8" cy="86.89" r="4.25"/><circle cx="577.72" cy="86.41" r="4.25"/><circle cx="579.64" cy="85.92" r="4.25"/><circle cx="581.56" cy="85.52" r="4.25"/><circle cx="583.48" cy="85.18" r="4.25"/><circle cx="585.39" cy="84.85" r="4.25"/><circle cx="587.31" cy="84.52" r="4.25"/><circle cx="589.23" cy="84.2" r="4.25"/><circle cx="591.15" cy="83.89" r="4.25"/><circle cx="593.06" cy="83.58" r="4.25"/><circle cx="594.98" cy="83.27" r="4.25"/><circle cx="596.9" cy="83.02" r="4.25"/><circle cx="598.82" cy="82.84" r="4.25"/><circle cx="600.74" cy="82.67" r="4.25"/><circle cx="602.65" cy="82.49" r="4.25"/><circle cx="604.57" cy="82.31" r="4.25"/><circle cx="606.49" cy="81.89" r="4.25"/><circle cx="608.41" cy="81.03" r="4.25"/><circle cx="610.33" cy="80.17" r="4.25"/><circle cx="612.24" cy="79.31" r="4.25"/><circle cx="614.16" cy="78.42" r="4.25"/><circle cx="616.08" cy="77.46" r="4.25"/><circle cx="618" cy="76.5" r="4.25"/><circle cx="619.92" cy="75.54" r="4.25"/><circle cx="621.83" cy="74.68" r="4.25"/><circle cx="623.75" cy="74.15" r="4.25"/><circle cx="625.67" cy="73.61" r="4.25"/><circle cx="627.59" cy="73.08" r="4.25"/><circle cx="629.51" cy="72.58" r="4.25"/><circle cx="631.42" cy="72.42" r="4.25"/><circle cx="633.34" cy="72.25" r="4.25"/><circle cx="635.26" cy="72" r="4.25"/><circle cx="637.18" cy="70.76" r="4.25"/><circle cx="639.09" cy="69.53" r="4.25"/><circle cx="641.01" cy="68.31" r="4.25"/><circle cx="642.93" cy="69.71" r="4.25"/><circle cx="644.85" cy="71.1" r="4.25"/><circle cx="646.77" cy="72.5" r="4.25"/><circle cx="648.68" cy="73.72" r="4.25"/><circle cx="650.6" cy="74.92" r="4.25"/><circle cx="652.52" cy="76.12" r="4.25"/><circle cx="654.44" cy="76.98" r="4.25"/><circle cx="656.36" cy="77.77" r="4.25"/><circle cx="658.27" cy="78.57" r="4.25"/><circle cx="660.19" cy="79.01" r="4.25"/><circle cx="662.11" cy="79.39" r="4.25"/><circle cx="664.03" cy="79.7" r="4.25"/></g></g>
<g><line x1="514.63" x2="514.63" y1="172.2" y2="231.5" stroke="#DEDEDE" stroke-width="1.9"/><line x1="560.66" x2="560.66" y1="172.2" y2="231.5" stroke="#DEDEDE" stroke-width="1.9"/><line x1="606.69" x2="606.69" y1="172.2" y2="231.5" stroke="#DEDEDE" stroke-width="1.9"/><line x1="652.72" x2="652.72" y1="172.2" y2="231.5" stroke="#DEDEDE" stroke-width="1.9"/><line x1="468.6" x2="698.7" y1="189" y2="189" stroke="#DEDEDE" stroke-width="1.9"/><line x1="474.95" x2="696.2" y1="223" y2="223" stroke="#CACACA" stroke-width="2.1" stroke-dasharray="1.15 4.412"/><line x1="474.95" x2="696.2" y1="214.5" y2="214.5" stroke="#CACACA" stroke-width="2.1" stroke-dasharray="1.15 4.412"/><line x1="474.95" x2="696.2" y1="206" y2="206" stroke="#CACACA" stroke-width="2.1" stroke-dasharray="1.15 4.412"/><line x1="474.95" x2="696.2" y1="197.5" y2="197.5" stroke="#CACACA" stroke-width="2.1" stroke-dasharray="1.15 4.412"/><line x1="474.95" x2="696.2" y1="180.5" y2="180.5" stroke="#CACACA" stroke-width="2.1" stroke-dasharray="1.15 4.412"/><rect x="468.6" y="172.2" width="230.1" height="59.3" fill="none" stroke="#262626" stroke-width="2.3"/><path d="M514.63 231.5v-3.2M514.63 172.2v3.2M560.66 231.5v-3.2M560.66 172.2v3.2M606.69 231.5v-3.2M606.69 172.2v3.2M652.72 231.5v-3.2M652.72 172.2v3.2M468.6 189h3.2M698.7 189h-3.2" stroke="#262626" stroke-width="2.1" fill="none"/><g fill="none" stroke="#0072BD" stroke-width="2.25"><circle cx="479.91" cy="180.6" r="4.25"/><circle cx="481.83" cy="206.1" r="4.25"/><circle cx="483.74" cy="206.1" r="4.25"/><circle cx="485.66" cy="231.6" r="4.25"/><circle cx="487.58" cy="206.1" r="4.25"/><circle cx="489.5" cy="206.1" r="4.25"/><circle cx="491.42" cy="172.1" r="4.25"/><circle cx="493.33" cy="231.6" r="4.25"/><circle cx="495.25" cy="231.6" r="4.25"/><circle cx="497.17" cy="231.6" r="4.25"/><circle cx="499.09" cy="231.6" r="4.25"/><circle cx="501" cy="231.6" r="4.25"/><circle cx="502.92" cy="231.6" r="4.25"/><circle cx="504.84" cy="231.6" r="4.25"/><circle cx="506.76" cy="231.6" r="4.25"/><circle cx="508.68" cy="231.6" r="4.25"/><circle cx="510.59" cy="231.6" r="4.25"/><circle cx="512.51" cy="231.6" r="4.25"/><circle cx="514.43" cy="231.6" r="4.25"/><circle cx="516.35" cy="231.6" r="4.25"/><circle cx="518.27" cy="231.6" r="4.25"/><circle cx="520.18" cy="231.6" r="4.25"/><circle cx="522.1" cy="231.6" r="4.25"/><circle cx="524.02" cy="231.6" r="4.25"/><circle cx="525.94" cy="231.6" r="4.25"/><circle cx="527.86" cy="231.6" r="4.25"/><circle cx="529.77" cy="231.6" r="4.25"/><circle cx="531.69" cy="231.6" r="4.25"/><circle cx="533.61" cy="231.6" r="4.25"/><circle cx="535.53" cy="231.6" r="4.25"/><circle cx="537.45" cy="231.6" r="4.25"/><circle cx="539.36" cy="231.6" r="4.25"/><circle cx="541.28" cy="231.6" r="4.25"/><circle cx="543.2" cy="231.6" r="4.25"/><circle cx="545.12" cy="231.6" r="4.25"/><circle cx="547.03" cy="231.6" r="4.25"/><circle cx="548.95" cy="231.6" r="4.25"/><circle cx="550.87" cy="231.6" r="4.25"/><circle cx="552.79" cy="231.6" r="4.25"/><circle cx="554.71" cy="231.6" r="4.25"/><circle cx="556.62" cy="231.6" r="4.25"/><circle cx="558.54" cy="231.6" r="4.25"/><circle cx="560.46" cy="231.6" r="4.25"/><circle cx="562.38" cy="231.6" r="4.25"/><circle cx="564.3" cy="231.6" r="4.25"/><circle cx="566.21" cy="231.6" r="4.25"/><circle cx="568.13" cy="231.6" r="4.25"/><circle cx="570.05" cy="231.6" r="4.25"/><circle cx="571.97" cy="231.6" r="4.25"/><circle cx="573.89" cy="231.6" r="4.25"/><circle cx="575.8" cy="231.6" r="4.25"/><circle cx="577.72" cy="231.6" r="4.25"/><circle cx="579.64" cy="231.6" r="4.25"/><circle cx="581.56" cy="231.6" r="4.25"/><circle cx="583.48" cy="231.6" r="4.25"/><circle cx="585.39" cy="231.6" r="4.25"/><circle cx="587.31" cy="231.6" r="4.25"/><circle cx="589.23" cy="214.6" r="4.25"/><circle cx="591.15" cy="231.6" r="4.25"/><circle cx="593.06" cy="231.6" r="4.25"/><circle cx="594.98" cy="231.6" r="4.25"/><circle cx="596.9" cy="231.6" r="4.25"/><circle cx="598.82" cy="214.6" r="4.25"/><circle cx="600.74" cy="231.6" r="4.25"/><circle cx="602.65" cy="231.6" r="4.25"/><circle cx="604.57" cy="231.6" r="4.25"/><circle cx="606.49" cy="231.6" r="4.25"/><circle cx="608.41" cy="231.6" r="4.25"/><circle cx="610.33" cy="231.6" r="4.25"/><circle cx="612.24" cy="231.6" r="4.25"/><circle cx="614.16" cy="231.6" r="4.25"/><circle cx="616.08" cy="231.6" r="4.25"/><circle cx="618" cy="231.6" r="4.25"/><circle cx="619.92" cy="231.6" r="4.25"/><circle cx="621.83" cy="231.6" r="4.25"/><circle cx="623.75" cy="231.6" r="4.25"/><circle cx="625.67" cy="231.6" r="4.25"/><circle cx="627.59" cy="231.6" r="4.25"/><circle cx="629.51" cy="231.6" r="4.25"/><circle cx="631.42" cy="197.6" r="4.25"/><circle cx="633.34" cy="206.1" r="4.25"/><circle cx="635.26" cy="214.6" r="4.25"/><circle cx="637.18" cy="214.6" r="4.25"/><circle cx="639.09" cy="223.1" r="4.25"/><circle cx="641.01" cy="231.6" r="4.25"/><circle cx="642.93" cy="231.6" r="4.25"/><circle cx="644.85" cy="231.6" r="4.25"/><circle cx="646.77" cy="231.6" r="4.25"/><circle cx="648.68" cy="231.6" r="4.25"/><circle cx="650.6" cy="231.6" r="4.25"/><circle cx="652.52" cy="231.6" r="4.25"/><circle cx="654.44" cy="231.6" r="4.25"/><circle cx="656.36" cy="231.6" r="4.25"/><circle cx="658.27" cy="231.6" r="4.25"/><circle cx="660.19" cy="231.6" r="4.25"/><circle cx="662.11" cy="231.6" r="4.25"/><circle cx="664.03" cy="231.6" r="4.25"/></g></g>
<g><line x1="514.63" x2="514.63" y1="299.8" y2="359.7" stroke="#DEDEDE" stroke-width="1.9"/><line x1="560.66" x2="560.66" y1="299.8" y2="359.7" stroke="#DEDEDE" stroke-width="1.9"/><line x1="606.69" x2="606.69" y1="299.8" y2="359.7" stroke="#DEDEDE" stroke-width="1.9"/><line x1="652.72" x2="652.72" y1="299.8" y2="359.7" stroke="#DEDEDE" stroke-width="1.9"/><line x1="468.6" x2="698.7" y1="338.3" y2="338.3" stroke="#DEDEDE" stroke-width="1.9"/><line x1="468.6" x2="698.7" y1="316.9" y2="316.9" stroke="#DEDEDE" stroke-width="1.9"/><line x1="474.95" x2="696.2" y1="355.42" y2="355.42" stroke="#CACACA" stroke-width="2.1" stroke-dasharray="1.15 4.412"/><line x1="474.95" x2="696.2" y1="351.14" y2="351.14" stroke="#CACACA" stroke-width="2.1" stroke-dasharray="1.15 4.412"/><line x1="474.95" x2="696.2" y1="346.86" y2="346.86" stroke="#CACACA" stroke-width="2.1" stroke-dasharray="1.15 4.412"/><line x1="474.95" x2="696.2" y1="342.58" y2="342.58" stroke="#CACACA" stroke-width="2.1" stroke-dasharray="1.15 4.412"/><line x1="474.95" x2="696.2" y1="334.02" y2="334.02" stroke="#CACACA" stroke-width="2.1" stroke-dasharray="1.15 4.412"/><line x1="474.95" x2="696.2" y1="329.74" y2="329.74" stroke="#CACACA" stroke-width="2.1" stroke-dasharray="1.15 4.412"/><line x1="474.95" x2="696.2" y1="325.46" y2="325.46" stroke="#CACACA" stroke-width="2.1" stroke-dasharray="1.15 4.412"/><line x1="474.95" x2="696.2" y1="321.18" y2="321.18" stroke="#CACACA" stroke-width="2.1" stroke-dasharray="1.15 4.412"/><line x1="474.95" x2="696.2" y1="312.62" y2="312.62" stroke="#CACACA" stroke-width="2.1" stroke-dasharray="1.15 4.412"/><line x1="474.95" x2="696.2" y1="308.34" y2="308.34" stroke="#CACACA" stroke-width="2.1" stroke-dasharray="1.15 4.412"/><line x1="474.95" x2="696.2" y1="304.06" y2="304.06" stroke="#CACACA" stroke-width="2.1" stroke-dasharray="1.15 4.412"/><rect x="468.6" y="299.8" width="230.1" height="59.9" fill="none" stroke="#262626" stroke-width="2.3"/><path d="M514.63 359.7v-3.2M514.63 299.8v3.2M560.66 359.7v-3.2M560.66 299.8v3.2M606.69 359.7v-3.2M606.69 299.8v3.2M652.72 359.7v-3.2M652.72 299.8v3.2M468.6 338.3h3.2M698.7 338.3h-3.2M468.6 316.9h3.2M698.7 316.9h-3.2" stroke="#262626" stroke-width="2.1" fill="none"/><g fill="none" stroke="#0072BD" stroke-width="2.25"><circle cx="479.91" cy="323.1" r="4.25"/><circle cx="481.83" cy="335.8" r="4.25"/><circle cx="483.74" cy="342.02" r="4.25"/><circle cx="485.66" cy="344.27" r="4.25"/><circle cx="487.58" cy="344.6" r="4.25"/><circle cx="489.5" cy="343.48" r="4.25"/><circle cx="491.42" cy="341.42" r="4.25"/><circle cx="493.33" cy="339.27" r="4.25"/><circle cx="495.25" cy="337.44" r="4.25"/><circle cx="497.17" cy="335.8" r="4.25"/><circle cx="499.09" cy="347.1" r="4.25"/><circle cx="501" cy="348.94" r="4.25"/><circle cx="502.92" cy="350.65" r="4.25"/><circle cx="504.84" cy="351" r="4.25"/><circle cx="506.76" cy="351.28" r="4.25"/><circle cx="508.68" cy="350.07" r="4.25"/><circle cx="510.59" cy="352.08" r="4.25"/><circle cx="512.51" cy="350.33" r="4.25"/><circle cx="514.43" cy="350.91" r="4.25"/><circle cx="516.35" cy="351.81" r="4.25"/><circle cx="518.27" cy="349.9" r="4.25"/><circle cx="520.18" cy="351.82" r="4.25"/><circle cx="522.1" cy="352.13" r="4.25"/><circle cx="524.02" cy="352.24" r="4.25"/><circle cx="525.94" cy="353.98" r="4.25"/><circle cx="527.86" cy="350.98" r="4.25"/><circle cx="529.77" cy="350.57" r="4.25"/><circle cx="531.69" cy="349.51" r="4.25"/><circle cx="533.61" cy="348.12" r="4.25"/><circle cx="535.53" cy="351.3" r="4.25"/><circle cx="537.45" cy="349.39" r="4.25"/><circle cx="539.36" cy="348.76" r="4.25"/><circle cx="541.28" cy="349.13" r="4.25"/><circle cx="543.2" cy="346.17" r="4.25"/><circle cx="545.12" cy="346.69" r="4.25"/><circle cx="547.03" cy="344.45" r="4.25"/><circle cx="548.95" cy="339.58" r="4.25"/><circle cx="550.87" cy="337.92" r="4.25"/><circle cx="552.79" cy="333.32" r="4.25"/><circle cx="554.71" cy="333.67" r="4.25"/><circle cx="556.62" cy="334.55" r="4.25"/><circle cx="558.54" cy="333.55" r="4.25"/><circle cx="560.46" cy="336.09" r="4.25"/><circle cx="562.38" cy="334.53" r="4.25"/><circle cx="564.3" cy="333.66" r="4.25"/><circle cx="566.21" cy="334.64" r="4.25"/><circle cx="568.13" cy="331.83" r="4.25"/><circle cx="570.05" cy="331.86" r="4.25"/><circle cx="571.97" cy="328.83" r="4.25"/><circle cx="573.89" cy="323.8" r="4.25"/><circle cx="575.8" cy="324.9" r="4.25"/><circle cx="577.72" cy="325.37" r="4.25"/><circle cx="579.64" cy="327.22" r="4.25"/><circle cx="581.56" cy="315.57" r="4.25"/><circle cx="583.48" cy="321.9" r="4.25"/><circle cx="585.39" cy="321.24" r="4.25"/><circle cx="587.31" cy="312.69" r="4.25"/><circle cx="589.23" cy="310.05" r="4.25"/><circle cx="591.15" cy="311.12" r="4.25"/><circle cx="593.06" cy="308.19" r="4.25"/><circle cx="594.98" cy="308.78" r="4.25"/><circle cx="596.9" cy="310.73" r="4.25"/><circle cx="598.82" cy="312.88" r="4.25"/><circle cx="600.74" cy="317.39" r="4.25"/><circle cx="602.65" cy="316.74" r="4.25"/><circle cx="604.57" cy="316.92" r="4.25"/><circle cx="606.49" cy="318.73" r="4.25"/><circle cx="608.41" cy="317.45" r="4.25"/><circle cx="610.33" cy="319.84" r="4.25"/><circle cx="612.24" cy="320.35" r="4.25"/><circle cx="614.16" cy="319.97" r="4.25"/><circle cx="616.08" cy="320.74" r="4.25"/><circle cx="618" cy="317.43" r="4.25"/><circle cx="619.92" cy="316.92" r="4.25"/><circle cx="621.83" cy="316.46" r="4.25"/><circle cx="623.75" cy="312.7" r="4.25"/><circle cx="625.67" cy="312.85" r="4.25"/><circle cx="627.59" cy="310.41" r="4.25"/><circle cx="629.51" cy="309.66" r="4.25"/><circle cx="631.42" cy="311.18" r="4.25"/><circle cx="633.34" cy="310.24" r="4.25"/><circle cx="635.26" cy="299.4" r="4.25"/><circle cx="637.18" cy="308.84" r="4.25"/><circle cx="639.09" cy="323.3" r="4.25"/><circle cx="641.01" cy="318.93" r="4.25"/><circle cx="642.93" cy="317.29" r="4.25"/><circle cx="644.85" cy="317.2" r="4.25"/><circle cx="646.77" cy="314.75" r="4.25"/><circle cx="648.68" cy="315.49" r="4.25"/><circle cx="650.6" cy="318.47" r="4.25"/><circle cx="652.52" cy="317.62" r="4.25"/><circle cx="654.44" cy="318.86" r="4.25"/><circle cx="656.36" cy="322.01" r="4.25"/><circle cx="658.27" cy="321.34" r="4.25"/><circle cx="660.19" cy="322.44" r="4.25"/><circle cx="662.11" cy="323.14" r="4.25"/><circle cx="664.03" cy="322.8" r="4.25"/></g></g>
<g><line x1="514.63" x2="514.63" y1="427.4" y2="487.3" stroke="#DEDEDE" stroke-width="1.9"/><line x1="560.66" x2="560.66" y1="427.4" y2="487.3" stroke="#DEDEDE" stroke-width="1.9"/><line x1="606.69" x2="606.69" y1="427.4" y2="487.3" stroke="#DEDEDE" stroke-width="1.9"/><line x1="652.72" x2="652.72" y1="427.4" y2="487.3" stroke="#DEDEDE" stroke-width="1.9"/><line x1="468.6" x2="698.7" y1="462.45" y2="462.45" stroke="#DEDEDE" stroke-width="1.9"/><line x1="468.6" x2="698.7" y1="437.6" y2="437.6" stroke="#DEDEDE" stroke-width="1.9"/><line x1="474.95" x2="696.2" y1="482.33" y2="482.33" stroke="#CACACA" stroke-width="2.1" stroke-dasharray="1.15 4.412"/><line x1="474.95" x2="696.2" y1="477.36" y2="477.36" stroke="#CACACA" stroke-width="2.1" stroke-dasharray="1.15 4.412"/><line x1="474.95" x2="696.2" y1="472.39" y2="472.39" stroke="#CACACA" stroke-width="2.1" stroke-dasharray="1.15 4.412"/><line x1="474.95" x2="696.2" y1="467.42" y2="467.42" stroke="#CACACA" stroke-width="2.1" stroke-dasharray="1.15 4.412"/><line x1="474.95" x2="696.2" y1="457.48" y2="457.48" stroke="#CACACA" stroke-width="2.1" stroke-dasharray="1.15 4.412"/><line x1="474.95" x2="696.2" y1="452.51" y2="452.51" stroke="#CACACA" stroke-width="2.1" stroke-dasharray="1.15 4.412"/><line x1="474.95" x2="696.2" y1="447.54" y2="447.54" stroke="#CACACA" stroke-width="2.1" stroke-dasharray="1.15 4.412"/><line x1="474.95" x2="696.2" y1="442.57" y2="442.57" stroke="#CACACA" stroke-width="2.1" stroke-dasharray="1.15 4.412"/><line x1="474.95" x2="696.2" y1="432.63" y2="432.63" stroke="#CACACA" stroke-width="2.1" stroke-dasharray="1.15 4.412"/><rect x="468.6" y="427.4" width="230.1" height="59.9" fill="none" stroke="#262626" stroke-width="2.3"/><path d="M514.63 487.3v-3.2M514.63 427.4v3.2M560.66 487.3v-3.2M560.66 427.4v3.2M606.69 487.3v-3.2M606.69 427.4v3.2M652.72 487.3v-3.2M652.72 427.4v3.2M468.6 462.45h3.2M698.7 462.45h-3.2M468.6 437.6h3.2M698.7 437.6h-3.2" stroke="#262626" stroke-width="2.1" fill="none"/><g fill="none" stroke="#0072BD" stroke-width="2.25"><circle cx="479.91" cy="487.25" r="4.25"/><circle cx="481.83" cy="487.25" r="4.25"/><circle cx="483.74" cy="487.25" r="4.25"/><circle cx="485.66" cy="487.25" r="4.25"/><circle cx="487.58" cy="487.25" r="4.25"/><circle cx="489.5" cy="487.25" r="4.25"/><circle cx="491.42" cy="487.25" r="4.25"/><circle cx="493.33" cy="487.25" r="4.25"/><circle cx="495.25" cy="487.25" r="4.25"/><circle cx="497.17" cy="487.25" r="4.25"/><circle cx="499.09" cy="487.25" r="4.25"/><circle cx="501" cy="487.25" r="4.25"/><circle cx="502.92" cy="487.25" r="4.25"/><circle cx="504.84" cy="487.25" r="4.25"/><circle cx="506.76" cy="487.25" r="4.25"/><circle cx="508.68" cy="487.25" r="4.25"/><circle cx="510.59" cy="487.25" r="4.25"/><circle cx="512.51" cy="487.25" r="4.25"/><circle cx="514.43" cy="487.25" r="4.25"/><circle cx="516.35" cy="487.25" r="4.25"/><circle cx="518.27" cy="487.25" r="4.25"/><circle cx="520.18" cy="487.25" r="4.25"/><circle cx="522.1" cy="487.25" r="4.25"/><circle cx="524.02" cy="487.25" r="4.25"/><circle cx="525.94" cy="487.25" r="4.25"/><circle cx="527.86" cy="487.25" r="4.25"/><circle cx="529.77" cy="487.25" r="4.25"/><circle cx="531.69" cy="487.25" r="4.25"/><circle cx="533.61" cy="487.25" r="4.25"/><circle cx="535.53" cy="487.25" r="4.25"/><circle cx="537.45" cy="487.25" r="4.25"/><circle cx="539.36" cy="487.25" r="4.25"/><circle cx="541.28" cy="487.25" r="4.25"/><circle cx="543.2" cy="487.25" r="4.25"/><circle cx="545.12" cy="487.25" r="4.25"/><circle cx="547.03" cy="487.25" r="4.25"/><circle cx="548.95" cy="487.25" r="4.25"/><circle cx="550.87" cy="487.25" r="4.25"/><circle cx="552.79" cy="487.25" r="4.25"/><circle cx="554.71" cy="487.25" r="4.25"/><circle cx="556.62" cy="487.25" r="4.25"/><circle cx="558.54" cy="487.25" r="4.25"/><circle cx="560.46" cy="487.25" r="4.25"/><circle cx="562.38" cy="487.25" r="4.25"/><circle cx="564.3" cy="487.25" r="4.25"/><circle cx="566.21" cy="487.25" r="4.25"/><circle cx="568.13" cy="487.25" r="4.25"/><circle cx="570.05" cy="487.25" r="4.25"/><circle cx="571.97" cy="487.25" r="4.25"/><circle cx="573.89" cy="487.25" r="4.25"/><circle cx="575.8" cy="487.25" r="4.25"/><circle cx="577.72" cy="487.25" r="4.25"/><circle cx="579.64" cy="487.25" r="4.25"/><circle cx="581.56" cy="487.25" r="4.25"/><circle cx="583.48" cy="487.25" r="4.25"/><circle cx="585.39" cy="487.25" r="4.25"/><circle cx="587.31" cy="487.25" r="4.25"/><circle cx="589.23" cy="487.25" r="4.25"/><circle cx="591.15" cy="487.25" r="4.25"/><circle cx="593.06" cy="487.25" r="4.25"/><circle cx="594.98" cy="487.25" r="4.25"/><circle cx="596.9" cy="487.25" r="4.25"/><circle cx="598.82" cy="487.25" r="4.25"/><circle cx="600.74" cy="487.25" r="4.25"/><circle cx="602.65" cy="487.25" r="4.25"/><circle cx="604.57" cy="487.25" r="4.25"/><circle cx="606.49" cy="487.25" r="4.25"/><circle cx="608.41" cy="427.5" r="4.25"/><circle cx="610.33" cy="487.25" r="4.25"/><circle cx="612.24" cy="487.25" r="4.25"/><circle cx="614.16" cy="487.25" r="4.25"/><circle cx="616.08" cy="487.25" r="4.25"/><circle cx="618" cy="487.25" r="4.25"/><circle cx="619.92" cy="487.25" r="4.25"/><circle cx="621.83" cy="487.25" r="4.25"/><circle cx="623.75" cy="487.25" r="4.25"/><circle cx="625.67" cy="487.25" r="4.25"/><circle cx="627.59" cy="487.25" r="4.25"/><circle cx="629.51" cy="487.25" r="4.25"/><circle cx="631.42" cy="487.25" r="4.25"/><circle cx="633.34" cy="487.25" r="4.25"/><circle cx="635.26" cy="487.25" r="4.25"/><circle cx="637.18" cy="487.25" r="4.25"/><circle cx="639.09" cy="487.25" r="4.25"/><circle cx="641.01" cy="487.25" r="4.25"/><circle cx="642.93" cy="487.25" r="4.25"/><circle cx="644.85" cy="487.25" r="4.25"/><circle cx="646.77" cy="487.25" r="4.25"/><circle cx="648.68" cy="487.25" r="4.25"/><circle cx="650.6" cy="487.25" r="4.25"/><circle cx="652.52" cy="487.25" r="4.25"/><circle cx="654.44" cy="487.25" r="4.25"/><circle cx="656.36" cy="487.25" r="4.25"/><circle cx="658.27" cy="487.25" r="4.25"/><circle cx="660.19" cy="487.25" r="4.25"/><circle cx="662.11" cy="487.25" r="4.25"/><circle cx="664.03" cy="487.25" r="4.25"/></g></g>
<text x="84.13" y="110.8" font-size="18.4" font-weight="normal" fill="#262626" textLength="32.91" lengthAdjust="spacingAndGlyphs">500</text>
<text x="73.38" y="52.5" font-size="18.4" font-weight="normal" fill="#262626" textLength="43.91" lengthAdjust="spacingAndGlyphs">1000</text>
<text x="84.13" y="238.1" font-size="18.4" font-weight="normal" fill="#262626" textLength="32.91" lengthAdjust="spacingAndGlyphs">240</text>
<text x="84.13" y="208.45" font-size="18.4" font-weight="normal" fill="#262626" textLength="32.91" lengthAdjust="spacingAndGlyphs">260</text>
<text x="84.13" y="178.8" font-size="18.4" font-weight="normal" fill="#262626" textLength="32.91" lengthAdjust="spacingAndGlyphs">280</text>
<text x="105.63" y="366.3" font-size="18.4" font-weight="normal" fill="#262626" textLength="10.92" lengthAdjust="spacingAndGlyphs">0</text>
<text x="73.38" y="341.75" font-size="18.4" font-weight="normal" fill="#262626" textLength="43.91" lengthAdjust="spacingAndGlyphs">1000</text>
<text x="73.38" y="317.2" font-size="18.4" font-weight="normal" fill="#262626" textLength="43.91" lengthAdjust="spacingAndGlyphs">2000</text>
<text x="105.63" y="493.9" font-size="18.4" font-weight="normal" fill="#262626" textLength="10.92" lengthAdjust="spacingAndGlyphs">0</text>
<text x="73.38" y="473.93" font-size="18.4" font-weight="normal" fill="#262626" textLength="43.91" lengthAdjust="spacingAndGlyphs">1000</text>
<text x="73.38" y="453.97" font-size="18.4" font-weight="normal" fill="#262626" textLength="43.91" lengthAdjust="spacingAndGlyphs">2000</text>
<text x="73.38" y="434" font-size="18.4" font-weight="normal" fill="#262626" textLength="43.91" lengthAdjust="spacingAndGlyphs">3000</text>
<text x="427.13" y="110.8" font-size="18.4" font-weight="normal" fill="#262626" textLength="32.91" lengthAdjust="spacingAndGlyphs">260</text>
<text x="427.13" y="89.4" font-size="18.4" font-weight="normal" fill="#262626" textLength="32.91" lengthAdjust="spacingAndGlyphs">270</text>
<text x="427.13" y="68" font-size="18.4" font-weight="normal" fill="#262626" textLength="32.91" lengthAdjust="spacingAndGlyphs">280</text>
<text x="448.63" y="238.1" font-size="18.4" font-weight="normal" fill="#262626" textLength="10.92" lengthAdjust="spacingAndGlyphs">0</text>
<text x="432.84" y="195.6" font-size="18.4" font-weight="normal" fill="#262626" textLength="27.07" lengthAdjust="spacingAndGlyphs">0.5</text>
<text x="448.63" y="366.3" font-size="18.4" font-weight="normal" fill="#262626" textLength="10.92" lengthAdjust="spacingAndGlyphs">0</text>
<text x="449.8" y="344.9" font-size="18.4" font-weight="normal" fill="#262626" textLength="7.16" lengthAdjust="spacingAndGlyphs">1</text>
<text x="448.5" y="323.5" font-size="18.4" font-weight="normal" fill="#262626" textLength="12.28" lengthAdjust="spacingAndGlyphs">2</text>
<text x="448.63" y="493.9" font-size="18.4" font-weight="normal" fill="#262626" textLength="10.92" lengthAdjust="spacingAndGlyphs">0</text>
<text x="449.8" y="469.05" font-size="18.4" font-weight="normal" fill="#262626" textLength="7.16" lengthAdjust="spacingAndGlyphs">1</text>
<text x="448.5" y="444.2" font-size="18.4" font-weight="normal" fill="#262626" textLength="12.28" lengthAdjust="spacingAndGlyphs">2</text>
<text transform="translate(137.8 509) rotate(-45)" x="-50.11" y="0" font-size="18.4" font-weight="normal" fill="#262626" textLength="51.26" lengthAdjust="spacingAndGlyphs">12/25</text>
<text transform="translate(183.83 509) rotate(-45)" x="-50.11" y="0" font-size="18.4" font-weight="normal" fill="#262626" textLength="51.26" lengthAdjust="spacingAndGlyphs">12/26</text>
<text transform="translate(229.86 509) rotate(-45)" x="-50.11" y="0" font-size="18.4" font-weight="normal" fill="#262626" textLength="51.26" lengthAdjust="spacingAndGlyphs">12/27</text>
<text transform="translate(275.89 509) rotate(-45)" x="-50.11" y="0" font-size="18.4" font-weight="normal" fill="#262626" textLength="51.26" lengthAdjust="spacingAndGlyphs">12/28</text>
<text transform="translate(321.92 509) rotate(-45)" x="-50.11" y="0" font-size="18.4" font-weight="normal" fill="#262626" textLength="51.26" lengthAdjust="spacingAndGlyphs">12/29</text>
<text transform="translate(367.95 509) rotate(-45)" x="-50.11" y="0" font-size="18.4" font-weight="normal" fill="#262626" textLength="51.26" lengthAdjust="spacingAndGlyphs">12/30</text>
<text x="215.1" y="575.65" font-size="20.5" font-weight="normal" fill="#262626" textLength="49.79" lengthAdjust="spacingAndGlyphs">Time</text>
<text transform="translate(481 509) rotate(-45)" x="-50.11" y="0" font-size="18.4" font-weight="normal" fill="#262626" textLength="51.26" lengthAdjust="spacingAndGlyphs">12/25</text>
<text transform="translate(527.03 509) rotate(-45)" x="-50.11" y="0" font-size="18.4" font-weight="normal" fill="#262626" textLength="51.26" lengthAdjust="spacingAndGlyphs">12/26</text>
<text transform="translate(573.06 509) rotate(-45)" x="-50.11" y="0" font-size="18.4" font-weight="normal" fill="#262626" textLength="51.26" lengthAdjust="spacingAndGlyphs">12/27</text>
<text transform="translate(619.09 509) rotate(-45)" x="-50.11" y="0" font-size="18.4" font-weight="normal" fill="#262626" textLength="51.26" lengthAdjust="spacingAndGlyphs">12/28</text>
<text transform="translate(665.12 509) rotate(-45)" x="-50.11" y="0" font-size="18.4" font-weight="normal" fill="#262626" textLength="51.26" lengthAdjust="spacingAndGlyphs">12/29</text>
<text transform="translate(711.15 509) rotate(-45)" x="-50.11" y="0" font-size="18.4" font-weight="normal" fill="#262626" textLength="51.26" lengthAdjust="spacingAndGlyphs">12/30</text>
<text x="558.3" y="575.65" font-size="20.5" font-weight="normal" fill="#262626" textLength="49.79" lengthAdjust="spacingAndGlyphs">Time</text>
<text x="175.71" y="31.75" font-size="20" font-weight="bold" fill="#000" textLength="127.45" lengthAdjust="spacingAndGlyphs">Figure 2 low</text>
<text transform="translate(61.1 125.46) rotate(-90)" font-size="21" font-weight="normal" fill="#262626" textLength="101.63" lengthAdjust="spacingAndGlyphs">PRESSURE</text>
<text transform="translate(61.1 384.19) rotate(-90)" font-size="21" font-weight="normal" fill="#262626" textLength="107.9" lengthAdjust="spacingAndGlyphs">MIXDEPTH</text>
<text transform="translate(416.3 106.6) rotate(-90)" font-size="21" font-weight="normal" fill="#262626" textLength="65.07" lengthAdjust="spacingAndGlyphs">THETA</text>
<text transform="translate(423.2 250.44) rotate(-90)" font-size="21" font-weight="normal" fill="#262626" textLength="96.35" lengthAdjust="spacingAndGlyphs">RAINFALL</text>
<text transform="translate(438.2 384.79) rotate(-90)" font-size="21" font-weight="normal" fill="#262626" textLength="109.38" lengthAdjust="spacingAndGlyphs">H2OMIXRA</text>
<text transform="translate(63.9 245.2) rotate(-90)" font-size="21" font-weight="normal" fill="#262626" textLength="33.88" lengthAdjust="spacingAndGlyphs">AIR</text>
<text transform="translate(73.8 210.9) rotate(-90)" font-size="16.2" font-weight="normal" fill="#262626" textLength="9" lengthAdjust="spacingAndGlyphs">T</text>
<text transform="translate(63.9 200.65) rotate(-90)" font-size="21" font-weight="normal" fill="#262626" textLength="44.32" lengthAdjust="spacingAndGlyphs">EMP</text>
<text transform="translate(53.3 501.9) rotate(-90)" font-size="21" font-weight="normal" fill="#262626" textLength="48.39" lengthAdjust="spacingAndGlyphs">TERR</text>
<text transform="translate(63.6 452.31) rotate(-90)" font-size="16.2" font-weight="normal" fill="#262626" textLength="17.65" lengthAdjust="spacingAndGlyphs">M</text>
<text transform="translate(53.3 434.88) rotate(-90)" font-size="21" font-weight="normal" fill="#262626" textLength="22.69" lengthAdjust="spacingAndGlyphs">SL</text>
<text transform="translate(399.1 503.24) rotate(-90)" font-size="21" font-weight="normal" fill="#262626" textLength="41.7" lengthAdjust="spacingAndGlyphs">SUN</text>
<text transform="translate(407.5 459.12) rotate(-90)" font-size="16.2" font-weight="normal" fill="#262626" textLength="9.15" lengthAdjust="spacingAndGlyphs">F</text>
<text transform="translate(399.1 449.19) rotate(-90)" font-size="21" font-weight="normal" fill="#262626" textLength="38.71" lengthAdjust="spacingAndGlyphs">LUX</text>
</svg>
</body></html>
